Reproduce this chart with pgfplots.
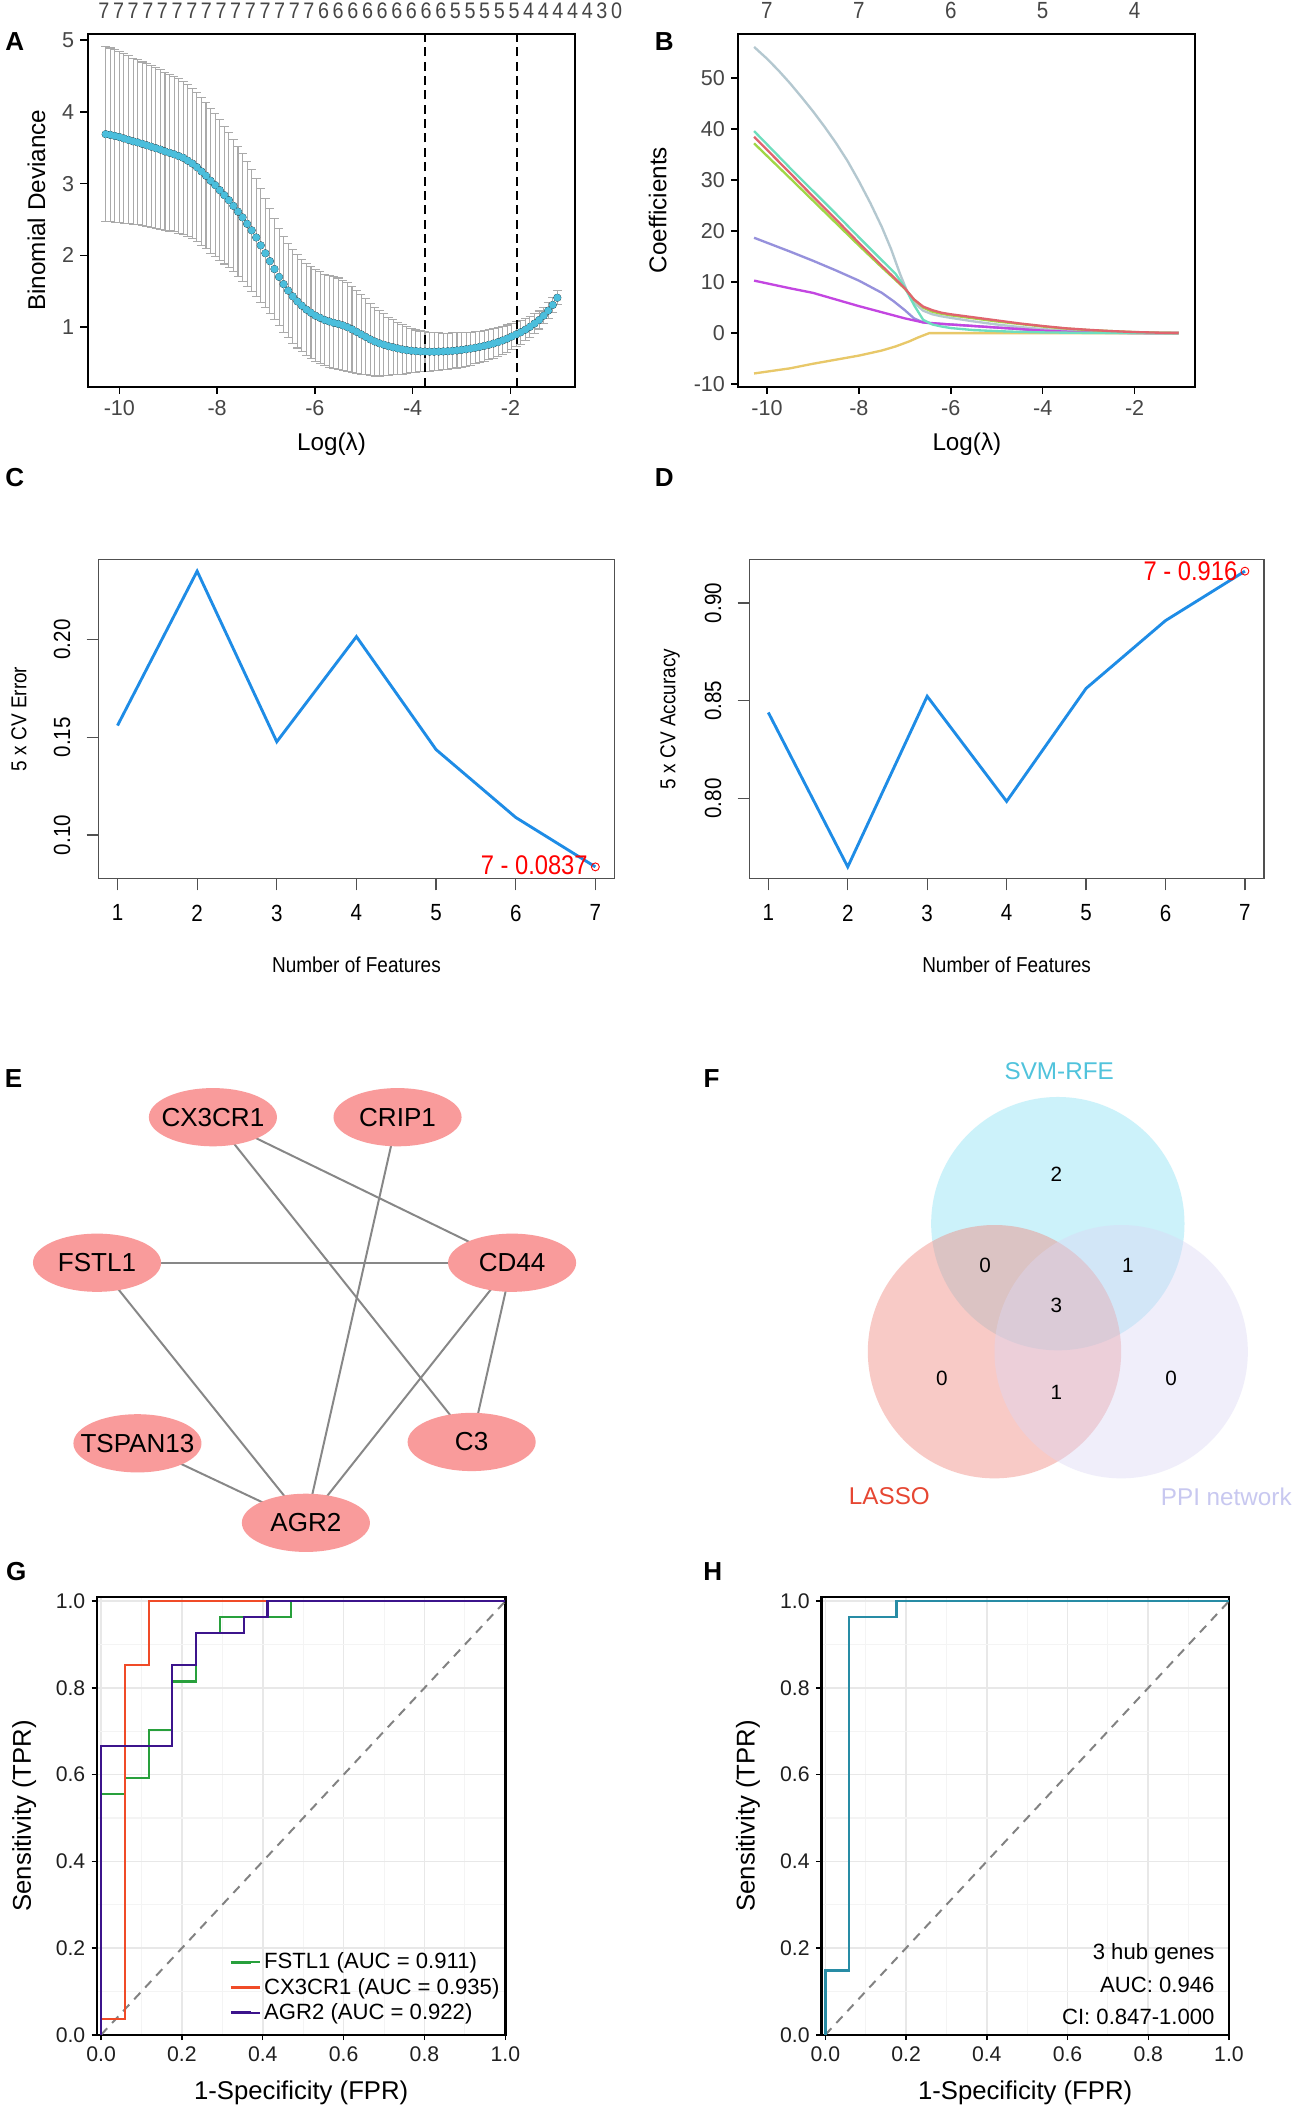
\documentclass[border=0pt]{standalone}
\usepackage{fontspec}
\setmainfont{Liberation Sans}
\newfontfamily\nf[FakeStretch=0.88]{Liberation Sans}
\usepackage{pgfplots}
\usepackage{pgfplotstable}
\pgfplotsset{compat=1.18}
\newcommand{\fs}[1]{\fontsize{#1}{#1}\selectfont}
\definecolor{tickgray}{RGB}{70,70,70}
\definecolor{errgray}{RGB}{170,170,170}
\definecolor{cvcyan}{RGB}{75,190,220}
\definecolor{bgray}{RGB}{180,200,208}
\definecolor{bteal}{RGB}{110,222,190}
\definecolor{bred}{RGB}{224,100,110}
\definecolor{bgreen}{RGB}{160,215,70}
\definecolor{blav}{RGB}{150,145,220}
\definecolor{bmag}{RGB}{195,70,225}
\definecolor{byel}{RGB}{232,200,105}
\definecolor{cvblue}{RGB}{30,140,230}
\definecolor{rgray}{RGB}{80,80,80}
\definecolor{nodepink}{RGB}{249,155,155}
\definecolor{edgegray}{RGB}{135,135,135}
\definecolor{svmc}{RGB}{135,225,245}
\definecolor{lassoc}{RGB}{240,130,120}
\definecolor{ppic}{RGB}{220,215,245}
\definecolor{svmt}{RGB}{80,195,220}
\definecolor{lassot}{RGB}{230,70,50}
\definecolor{ppit}{RGB}{200,200,240}
\definecolor{rocgreen}{RGB}{40,160,60}
\definecolor{rocred}{RGB}{240,75,40}
\definecolor{rocpurple}{RGB}{60,20,140}
\definecolor{rocteal}{RGB}{40,140,165}
\definecolor{gridmaj}{RGB}{232,232,232}
\definecolor{gridmin}{RGB}{244,244,244}
\definecolor{diaggray}{RGB}{130,130,130}

\pgfplotstableread{
x y e
-10.280 3.690 1.220
-10.187 3.680 1.210
-10.093 3.665 1.200
-10.000 3.650 1.190
-9.907 3.630 1.180
-9.813 3.610 1.170
-9.720 3.590 1.160
-9.627 3.575 1.150
-9.533 3.555 1.140
-9.440 3.535 1.135
-9.347 3.515 1.130
-9.253 3.495 1.120
-9.160 3.475 1.110
-9.067 3.450 1.100
-8.973 3.430 1.090
-8.880 3.410 1.080
-8.787 3.385 1.075
-8.693 3.360 1.070
-8.600 3.320 1.060
-8.507 3.280 1.050
-8.413 3.230 1.040
-8.320 3.170 1.030
-8.227 3.110 1.020
-8.133 3.040 1.010
-8.040 2.980 1.000
-7.947 2.910 0.980
-7.853 2.840 0.960
-7.760 2.770 0.940
-7.667 2.690 0.920
-7.573 2.610 0.910
-7.480 2.530 0.890
-7.387 2.440 0.870
-7.293 2.350 0.850
-7.200 2.250 0.820
-7.107 2.140 0.790
-7.013 2.030 0.760
-6.920 1.920 0.730
-6.827 1.810 0.700
-6.733 1.700 0.680
-6.640 1.600 0.670
-6.547 1.510 0.660
-6.453 1.430 0.655
-6.360 1.360 0.650
-6.267 1.300 0.645
-6.173 1.245 0.640
-6.080 1.200 0.640
-5.987 1.160 0.640
-5.893 1.130 0.640
-5.800 1.100 0.640
-5.707 1.080 0.640
-5.613 1.060 0.640
-5.520 1.045 0.640
-5.427 1.025 0.630
-5.333 1.000 0.620
-5.240 0.970 0.600
-5.147 0.935 0.580
-5.053 0.900 0.555
-4.960 0.865 0.530
-4.867 0.830 0.505
-4.773 0.800 0.480
-4.680 0.775 0.455
-4.587 0.755 0.430
-4.493 0.735 0.405
-4.400 0.720 0.385
-4.307 0.705 0.365
-4.213 0.690 0.345
-4.120 0.680 0.325
-4.027 0.672 0.310
-3.933 0.666 0.295
-3.840 0.662 0.285
-3.747 0.660 0.275
-3.653 0.658 0.270
-3.560 0.658 0.265
-3.467 0.660 0.260
-3.373 0.662 0.255
-3.280 0.665 0.250
-3.187 0.670 0.250
-3.093 0.676 0.245
-3.000 0.684 0.240
-2.907 0.692 0.235
-2.813 0.702 0.230
-2.720 0.713 0.225
-2.627 0.726 0.220
-2.533 0.740 0.215
-2.440 0.755 0.210
-2.347 0.772 0.205
-2.253 0.792 0.200
-2.160 0.815 0.195
-2.067 0.840 0.190
-1.973 0.870 0.185
-1.880 0.900 0.175
-1.787 0.930 0.165
-1.693 0.965 0.155
-1.600 1.005 0.145
-1.507 1.050 0.135
-1.413 1.100 0.125
-1.320 1.160 0.115
-1.227 1.230 0.110
-1.133 1.310 0.100
-1.040 1.410 0.100
}\cvdata

\begin{document}
\begin{tikzpicture}
\useasboundingbox (0pt,0pt) rectangle (723pt,-1173.8pt);
\fill[white] (0pt,0pt) rectangle (723pt,-1173.8pt);

% ---------------- Panel A
\begin{axis}[at={(48.75pt,-18.75pt)}, anchor=north west, scale only axis,
  width=271.5pt, height=196.5pt, xmin=-10.65, xmax=-0.67, ymin=0.17, ymax=5.09, clip=false,
  axis line style={line width=1.1pt, black}, tick align=outside, tick pos=left,
  major tick length=4pt, tick style={black, line width=0.8pt},
  xtick={-10,-8,-6,-4,-2}, xticklabels={-10,-8,-6,-4,-2},
  ytick={1,2,3,4,5}, yticklabels={1,2,3,4,5},
  ticklabel style={font=\fs{12}, text=tickgray},
  xlabel={Log(λ)}, ylabel={Binomial Deviance},
  every axis x label/.style={at={(axis description cs:0.5,-0.164)}, anchor=center, font=\fs{13.5}},
  every axis y label/.style={at={(axis description cs:-0.105,0.5)}, anchor=center, rotate=90, font=\fs{13.5}},
]
\addplot[only marks, mark=none, forget plot,
  error bars/.cd, y dir=both, y explicit,
  error bar style={errgray, line width=0.6pt},
  error mark options={rotate=90, errgray, mark size=2.4pt, line width=0.6pt}]
  table[x=x, y=y, y error=e] {\cvdata};
\addplot[only marks, mark=*, cvcyan, mark size=1.9pt] table[x=x, y=y] {\cvdata};
\addplot[black, line width=1pt, dash pattern=on 5pt off 3pt] coordinates {(-3.74,0.17) (-3.74,5.09)};
\addplot[black, line width=1pt, dash pattern=on 5pt off 3pt] coordinates {(-1.87,0.17) (-1.87,5.09)};
\node[font=\nf\fs{12.5}, text=tickgray] at (rel axis cs:0.4986,1.065)
  {\makebox[258.75pt][s]{7 7 7 7 7 7 7 7 7 7 7 7 7 7 7 6 6 6 6 6 6 6 6 6 5 5 5 5 5 4 4 4 4 4 3 0}};
\end{axis}

% ---------------- Panel B
\begin{axis}[at={(411pt,-18.75pt)}, anchor=north west, scale only axis,
  width=254.25pt, height=196.5pt, xmin=-10.62, xmax=-0.68, ymin=-10.5, ymax=58.7, clip=false,
  axis line style={line width=1.1pt, black}, tick align=outside, tick pos=left,
  major tick length=4pt, tick style={black, line width=0.8pt},
  xtick={-10,-8,-6,-4,-2}, xticklabels={-10,-8,-6,-4,-2},
  ytick={-10,0,10,20,30,40,50}, yticklabels={-10,0,10,20,30,40,50},
  ticklabel style={font=\fs{12}, text=tickgray},
  xlabel={Log(λ)}, ylabel={Coefficients},
  every axis x label/.style={at={(axis description cs:0.5,-0.164)}, anchor=center, font=\fs{13.5}},
  every axis y label/.style={at={(axis description cs:-0.177,0.5)}, anchor=center, rotate=90, font=\fs{13.5}},
]
\addplot[bgray, line width=1.3pt] coordinates {(-10.28,56.1) (-10,53.8) (-9.75,51.5) (-9.5,49.0) (-9.25,46.3) (-9,43.5) (-8.75,40.5) (-8.5,37.3) (-8.25,33.8) (-8,29.8) (-7.75,25.5) (-7.5,20.8) (-7.3,16.5) (-7.1,11.5) (-6.95,8.2) (-6.8,6.0) (-6.6,4.4) (-6.4,3.7) (-6.2,3.3) (-6.0,3.0) (-5.5,2.3) (-5.0,1.7) (-4.5,1.2) (-4.0,0.8) (-3.5,0.5) (-3.0,0.3) (-2.5,0.15) (-2.0,0.05) (-1.04,0)};
\addplot[blav, line width=1.3pt] coordinates {(-10.28,18.7) (-9.5,16.0) (-9,14.2) (-8.5,12.3) (-8,10.3) (-7.5,7.9) (-7.25,6.3) (-7,4.5) (-6.8,2.9) (-6.6,2.1) (-6.4,1.9) (-6.2,1.8) (-6,1.7) (-5.5,1.4) (-5,1.1) (-4.5,0.8) (-4,0.4) (-3.5,0.2) (-3,0.1) (-2,0) (-1.04,0)};
\addplot[bmag, line width=1.3pt] coordinates {(-10.28,10.3) (-9.5,8.8) (-9,7.9) (-8.5,6.6) (-8,5.3) (-7.5,4.1) (-7,2.9) (-6.6,2.1) (-6.3,1.9) (-6,1.7) (-5.5,1.4) (-5,1.1) (-4.5,0.8) (-4,0.5) (-3.5,0.3) (-3,0.15) (-2,0.02) (-1.04,0)};
\addplot[byel, line width=1.3pt] coordinates {(-10.28,-7.9) (-9.5,-6.9) (-9,-6.0) (-8.5,-5.2) (-8,-4.4) (-7.5,-3.4) (-7.2,-2.6) (-6.9,-1.6) (-6.7,-0.8) (-6.47,0) (-1.04,0)};
\addplot[bgreen, line width=1.3pt] coordinates {(-10.28,37.2) (-9.5,30.4) (-9,26.0) (-8.5,21.6) (-8,17.2) (-7.5,12.9) (-7.2,10.4) (-7.0,8.7) (-6.8,6.6) (-6.6,5.0) (-6.4,4.2) (-6.2,3.8) (-6,3.5) (-5.5,2.9) (-5,2.3) (-4.5,1.8) (-4,1.3) (-3.5,0.9) (-3,0.6) (-2.5,0.4) (-2,0.2) (-1.5,0.08) (-1.04,0.03)};
\addplot[bteal, line width=1.3pt] coordinates {(-10.28,39.6) (-9.5,32.4) (-9,27.9) (-8.5,23.4) (-8,18.8) (-7.5,14.3) (-7.2,11.6) (-7.0,9.0) (-6.8,5.5) (-6.6,2.6) (-6.4,1.7) (-6.2,1.3) (-6.0,1.0) (-5.5,0.6) (-5.0,0.4) (-4.5,0.25) (-4,0.15) (-3,0.05) (-1.04,0)};
\addplot[bred, line width=1.3pt] coordinates {(-10.28,38.5) (-9.5,31.4) (-9,26.8) (-8.5,22.3) (-8,17.7) (-7.5,13.2) (-7.2,10.6) (-7.0,8.8) (-6.8,6.6) (-6.6,5.2) (-6.4,4.5) (-6.2,4.0) (-6,3.7) (-5.5,3.1) (-5,2.5) (-4.5,1.9) (-4,1.4) (-3.5,0.95) (-3,0.65) (-2.5,0.4) (-2,0.22) (-1.5,0.1) (-1.04,0.05)};
\node[font=\nf\fs{13}, text=tickgray] at (axis cs:-10,63.2) {7};
\node[font=\nf\fs{13}, text=tickgray] at (axis cs:-8,63.2) {7};
\node[font=\nf\fs{13}, text=tickgray] at (axis cs:-6,63.2) {6};
\node[font=\nf\fs{13}, text=tickgray] at (axis cs:-4,63.2) {5};
\node[font=\nf\fs{13}, text=tickgray] at (axis cs:-2,63.2) {4};
\end{axis}

% ---------------- Panel C
\begin{axis}[at={(54.75pt,-311.25pt)}, anchor=north west, scale only axis,
  width=287.25pt, height=177.75pt, xmin=0.76, xmax=7.24, ymin=0.0777, ymax=0.2411, clip=false,
  axis line style={line width=0.7pt, rgray}, tick align=outside, tick pos=left,
  major tick length=6.5pt, tick style={rgray, line width=0.7pt},
  xtick={1,2,3,4,5,6,7}, xticklabels={1,2,3,4,5,6,7},
  ytick={0.10,0.15,0.20}, yticklabels={0.10,0.15,0.20},
  ticklabel style={font=\nf\fs{13}},
  yticklabel style={rotate=90, anchor=south},
  xticklabel shift=4.5pt, yticklabel shift=5.5pt,
  xlabel={Number of Features}, ylabel={5 x CV Error},
  every axis x label/.style={at={(axis description cs:0.5,-0.27)}, anchor=center, font=\nf\fs{12}},
  every axis y label/.style={at={(axis description cs:-0.154,0.5)}, anchor=center, rotate=90, font=\nf\fs{12}},
]
\addplot[cvblue, line width=1.6pt] coordinates {(1,0.156) (2,0.235) (3,0.1477) (4,0.2015) (5,0.1437) (6,0.109) (7,0.0837)};
\addplot[red, only marks, mark=o, mark size=2.2pt, mark options={line width=0.5pt}] coordinates {(7,0.0837)};
\node[anchor=east, text=red, font=\nf\fs{15}, inner sep=1pt] at (axis cs:6.93,0.0845) {7 - 0.0837};
\end{axis}

% ---------------- Panel D
\begin{axis}[at={(417pt,-311.25pt)}, anchor=north west, scale only axis,
  width=286.5pt, height=177.75pt, xmin=0.76, xmax=7.24, ymin=0.759, ymax=0.9224, clip=false,
  axis line style={line width=0.7pt, rgray}, tick align=outside, tick pos=left,
  major tick length=6.5pt, tick style={rgray, line width=0.7pt},
  xtick={1,2,3,4,5,6,7}, xticklabels={1,2,3,4,5,6,7},
  ytick={0.80,0.85,0.90}, yticklabels={0.80,0.85,0.90},
  ticklabel style={font=\nf\fs{13}},
  yticklabel style={rotate=90, anchor=south},
  xticklabel shift=4.5pt, yticklabel shift=5.5pt,
  xlabel={Number of Features}, ylabel={5 x CV Accuracy},
  every axis x label/.style={at={(axis description cs:0.5,-0.27)}, anchor=center, font=\nf\fs{12}},
  every axis y label/.style={at={(axis description cs:-0.154,0.5)}, anchor=center, rotate=90, font=\nf\fs{12}},
]
\addplot[cvblue, line width=1.6pt] coordinates {(1,0.844) (2,0.765) (3,0.8523) (4,0.7985) (5,0.8563) (6,0.891) (7,0.9163)};
\addplot[red, only marks, mark=o, mark size=2.2pt, mark options={line width=0.5pt}] coordinates {(7,0.9163)};
\node[anchor=east, text=red, font=\nf\fs{15}, inner sep=1pt] at (axis cs:6.93,0.9165) {7 - 0.916};
\end{axis}

% ---------------- Panels E and F (network and Venn) on a page-size hidden axis
\begin{axis}[at={(0pt,0pt)}, anchor=north west, scale only axis,
  width=723pt, height=1173.8pt, xmin=0, xmax=964, ymin=0, ymax=1565, y dir=reverse,
  hide axis, clip=false]
\addplot[edgegray, line width=1.1pt] coordinates {(158,829) (380,937)};
\addplot[edgegray, line width=1.1pt] coordinates {(158,829) (350,1070)};
\addplot[edgegray, line width=1.1pt] coordinates {(295,829) (227,1130)};
\addplot[edgegray, line width=1.1pt] coordinates {(72,937) (380,937)};
\addplot[edgegray, line width=1.1pt] coordinates {(72,937) (227,1130)};
\addplot[edgegray, line width=1.1pt] coordinates {(380,937) (350,1070)};
\addplot[edgegray, line width=1.1pt] coordinates {(380,937) (227,1130)};
\addplot[edgegray, line width=1.1pt] coordinates {(102,1071) (227,1130)};
\addplot[nodepink, only marks, mark=*, mark size=16.2pt,
  mark options={xscale=2.2, fill=nodepink, draw opacity=0},
  nodes near coords, point meta=explicit symbolic,
  every node near coord/.append style={anchor=center, font=\fs{14.5}, text=black}]
  table[x=x, y=y, meta=l] {
x y l
158 829 CX3CR1
295 829 CRIP1
72 937 FSTL1
380 937 CD44
102 1071 TSPAN13
350 1070 C3
227 1130 AGR2
};
% Venn circles
\addplot[svmc, only marks, mark=*, mark size=70.5pt, mark options={fill=svmc, draw opacity=0, fill opacity=0.42}] coordinates {(785,908)};
\addplot[lassoc, only marks, mark=*, mark size=70.5pt, mark options={fill=lassoc, draw opacity=0, fill opacity=0.42}] coordinates {(738,1003)};
\addplot[ppic, only marks, mark=*, mark size=70.5pt, mark options={fill=ppic, draw opacity=0, fill opacity=0.42}] coordinates {(832,1003)};
\end{axis}

% ---------------- texts of E/F and panel letters (drawn above the Venn circles)
\begin{axis}[at={(0pt,0pt)}, anchor=north west, scale only axis,
  width=723pt, height=1173.8pt, xmin=0, xmax=964, ymin=0, ymax=1565, y dir=reverse,
  hide axis, clip=false]
\node[font=\fs{11.5}] at (axis cs:784,871) {2};
\node[font=\fs{11.5}] at (axis cs:731,939) {0};
\node[font=\fs{11.5}] at (axis cs:837,939) {1};
\node[font=\fs{11.5}] at (axis cs:784,969) {3};
\node[font=\fs{11.5}] at (axis cs:699,1023) {0};
\node[font=\fs{11.5}] at (axis cs:784,1033) {1};
\node[font=\fs{11.5}] at (axis cs:869,1023) {0};
\node[font=\fs{13.5}, text=svmt] at (axis cs:786,795) {SVM-RFE};
\node[font=\fs{13.5}, text=lassot] at (axis cs:660,1110) {LASSO};
\node[font=\fs{13.5}, text=ppit] at (axis cs:910,1111) {PPI network};
\node[font=\bfseries\fs{14.5}] at (axis cs:11,31) {A};
\node[font=\bfseries\fs{14.5}] at (axis cs:493,31) {B};
\node[font=\bfseries\fs{14.5}] at (axis cs:11,354) {C};
\node[font=\bfseries\fs{14.5}] at (axis cs:493,354) {D};
\node[font=\bfseries\fs{14.5}] at (axis cs:10,800) {E};
\node[font=\bfseries\fs{14.5}] at (axis cs:528,800) {F};
\node[font=\bfseries\fs{14.5}] at (axis cs:12,1166) {G};
\node[font=\bfseries\fs{14.5}] at (axis cs:529,1166) {H};
\end{axis}

% ---------------- Panel G
\begin{axis}[at={(54pt,-888.75pt)}, anchor=north west, scale only axis,
  width=227.25pt, height=243.75pt, xmin=-0.01, xmax=1.0, ymin=0, ymax=1.01,
  axis line style={line width=1.4pt, black}, tick align=outside, tick pos=left,
  major tick length=3pt, minor tick length=0pt, tick style={black, line width=0.8pt},
  xtick={0,0.2,0.4,0.6,0.8,1}, xticklabels={0.0,0.2,0.4,0.6,0.8,1.0},
  ytick={0,0.2,0.4,0.6,0.8,1}, yticklabels={0.0,0.2,0.4,0.6,0.8,1.0},
  minor xtick={0.1,0.3,0.5,0.7,0.9}, minor ytick={0.1,0.3,0.5,0.7,0.9},
  grid=both, major grid style={gridmaj, line width=0.9pt}, minor grid style={gridmin, line width=0.6pt},
  ticklabel style={font=\fs{11.8}, text=black!88},
  xlabel={1-Specificity (FPR)}, ylabel={Sensitivity (TPR)},
  every axis x label/.style={at={(axis description cs:0.5,-0.132)}, anchor=center, font=\fs{14.3}},
  every axis y label/.style={at={(axis description cs:-0.178,0.5)}, anchor=center, rotate=90, font=\fs{14.3}},
  legend style={draw=none, fill=none, at={(rel axis cs:0.31,0.012)}, anchor=south west, font=\fs{12.3}, row sep=-0.4pt},
  legend cell align=left,
  legend image code/.code={\draw[#1, line width=1.6pt] (0pt,0pt) -- (11.5pt,0pt); \path (0pt,0pt) -- (16pt,0pt);},
]
\addplot[diaggray, line width=1.1pt, dash pattern=on 5pt off 4pt, forget plot] coordinates {(0,0) (1,1)};
\addplot[rocgreen, line width=1.2pt] coordinates {(0,0) (0,0.5556) (0.0588,0.5556) (0.0588,0.5926) (0.1176,0.5926) (0.1176,0.7037) (0.1765,0.7037) (0.1765,0.8148) (0.2353,0.8148) (0.2353,0.9259) (0.2941,0.9259) (0.2941,0.9630) (0.4706,0.9630) (0.4706,1) (1,1)};
\addlegendentry{FSTL1 (AUC = 0.911)}
\addplot[rocred, line width=1.2pt] coordinates {(0,0) (0,0.0370) (0.0588,0.0370) (0.0588,0.8519) (0.1176,0.8519) (0.1176,1) (1,1)};
\addlegendentry{CX3CR1 (AUC = 0.935)}
\addplot[rocpurple, line width=1.2pt] coordinates {(0,0) (0,0.6667) (0.1765,0.6667) (0.1765,0.8519) (0.2353,0.8519) (0.2353,0.9259) (0.3529,0.9259) (0.3529,0.9630) (0.4118,0.9630) (0.4118,1) (1,1)};
\addlegendentry{AGR2 (AUC = 0.922)}
\end{axis}

% ---------------- Panel H
\begin{axis}[at={(457.1pt,-888.75pt)}, anchor=north west, scale only axis,
  width=226.9pt, height=243.75pt, xmin=-0.01, xmax=1.0, ymin=0, ymax=1.01, clip=false,
  axis line style={line width=1.4pt, black}, tick align=outside, tick pos=left,
  major tick length=3pt, minor tick length=0pt, tick style={black, line width=0.8pt},
  xtick={0,0.2,0.4,0.6,0.8,1}, xticklabels={0.0,0.2,0.4,0.6,0.8,1.0},
  ytick={0,0.2,0.4,0.6,0.8,1}, yticklabels={0.0,0.2,0.4,0.6,0.8,1.0},
  minor xtick={0.1,0.3,0.5,0.7,0.9}, minor ytick={0.1,0.3,0.5,0.7,0.9},
  grid=both, major grid style={gridmaj, line width=0.9pt}, minor grid style={gridmin, line width=0.6pt},
  ticklabel style={font=\fs{11.8}, text=black!88},
  xlabel={1-Specificity (FPR)}, ylabel={Sensitivity (TPR)},
  every axis x label/.style={at={(axis description cs:0.5,-0.132)}, anchor=center, font=\fs{14.3}},
  every axis y label/.style={at={(axis description cs:-0.18,0.5)}, anchor=center, rotate=90, font=\fs{14.3}},
]
\addplot[diaggray, line width=1.1pt, dash pattern=on 5pt off 4pt] coordinates {(0,0) (1,1)};
\addplot[rocteal, line width=1.3pt] coordinates {(0,0) (0,0.1481) (0.0588,0.1481) (0.0588,0.9630) (0.1765,0.9630) (0.1765,1) (1,1)};
\node[anchor=east, font=\fs{12.3}] at (rel axis cs:0.98,0.185) {3 hub genes};
\node[anchor=east, font=\fs{12.3}] at (rel axis cs:0.98,0.114) {AUC: 0.946};
\node[anchor=east, font=\fs{12.3}] at (rel axis cs:0.98,0.040) {CI: 0.847-1.000};
\end{axis}
\end{tikzpicture}
\end{document}
